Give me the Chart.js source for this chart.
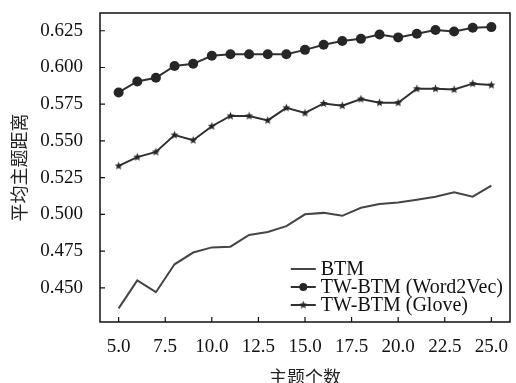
<!DOCTYPE html>
<html>
<head>
<meta charset="utf-8">
<script src="https://cdn.jsdelivr.net/npm/chart.js@4/dist/chart.umd.min.js"></script>
<style>
  html, body { margin: 0; padding: 0; background: #fff; }
  #wrap { width: 516px; height: 383px; position: relative; }
</style>
</head>
<body>
<div id="wrap"><canvas id="c" width="516" height="383"></canvas></div>
<script>
// Number of topics on the x axis
const topicCounts = [5, 6, 7, 8, 9, 10, 11, 12, 13, 14, 15, 16, 17, 18, 19, 20, 21, 22, 23, 24, 25];

// Average topic distance per model
const btmScores      = [0.436, 0.455, 0.447, 0.466, 0.474, 0.4775, 0.478, 0.486, 0.488, 0.492, 0.500, 0.501, 0.499, 0.5045, 0.507, 0.508, 0.510, 0.512, 0.515, 0.512, 0.5195];
const word2vecScores = [0.583, 0.5905, 0.593, 0.601, 0.6025, 0.608, 0.609, 0.609, 0.609, 0.609, 0.612, 0.6155, 0.618, 0.6195, 0.6225, 0.6205, 0.623, 0.6255, 0.6245, 0.627, 0.6275];
const gloveScores    = [0.533, 0.539, 0.5425, 0.554, 0.5505, 0.560, 0.567, 0.567, 0.564, 0.5725, 0.569, 0.5755, 0.574, 0.5785, 0.576, 0.576, 0.5855, 0.5855, 0.585, 0.589, 0.588];

const seriesNames = ['BTM', 'TW-BTM (Word2Vec)', 'TW-BTM (Glove)'];

// Tick labels
const xTicks = [5.0, 7.5, 10.0, 12.5, 15.0, 17.5, 20.0, 22.5, 25.0];
const yTicks = [0.450, 0.475, 0.500, 0.525, 0.550, 0.575, 0.600, 0.625];

const xTitle = '主题个数';
const yTitle = '平均主题距离';

const INK = '#303030';
const BTM_INK = '#454545';
const MARK = '#262626';
const SERIF = "'Liberation Serif', 'Times New Roman', serif";
const CJK = "'Noto Sans CJK SC', 'Noto Sans', sans-serif";

// Small filled five-point star used as a point marker
function makeStar(outer, inner, color) {
  const size = Math.ceil(outer * 2 + 2);
  const cv = document.createElement('canvas');
  cv.width = size; cv.height = size;
  const g = cv.getContext('2d');
  g.translate(size / 2, size / 2);
  g.beginPath();
  for (let i = 0; i < 10; i++) {
    const r = i % 2 === 0 ? outer : inner;
    const a = -Math.PI / 2 + i * Math.PI / 5;
    const px = r * Math.cos(a), py = r * Math.sin(a);
    if (i === 0) g.moveTo(px, py); else g.lineTo(px, py);
  }
  g.closePath();
  g.fillStyle = color;
  g.fill();
  return cv;
}
const starImg = makeStar(4.2, 1.9, MARK);

const toPoints = arr => topicCounts.map((x, i) => ({ x: x, y: arr[i] }));

// Frame around the plot area with inward ticks on the bottom and left axes
const framePlugin = {
  id: 'frame',
  afterDraw(chart) {
    const { ctx, chartArea: a, scales } = chart;
    ctx.save();
    ctx.strokeStyle = '#111';
    ctx.lineWidth = 1.5;
    ctx.strokeRect(a.left, a.top, a.right - a.left, a.bottom - a.top);
    ctx.lineWidth = 1.2;
    ctx.beginPath();
    scales.x.ticks.forEach(t => {
      const px = scales.x.getPixelForValue(t.value);
      ctx.moveTo(px, a.bottom);
      ctx.lineTo(px, a.bottom - 5);
    });
    scales.y.ticks.forEach(t => {
      const py = scales.y.getPixelForValue(t.value);
      ctx.moveTo(a.left, py);
      ctx.lineTo(a.left + 5, py);
    });
    ctx.stroke();
    ctx.restore();
  }
};

// Legend in the lower-right corner of the plot area
const legendPlugin = {
  id: 'cornerLegend',
  afterDraw(chart) {
    const { ctx, chartArea: a } = chart;
    ctx.save();
    ctx.font = '20px ' + SERIF;
    const maxW = Math.max(...seriesNames.map(s => ctx.measureText(s).width));
    const textX = a.right - 7 - maxW;
    const x2 = textX - 5, x1 = x2 - 25;
    const rowGap = 18;
    const firstY = a.bottom - 53;
    seriesNames.forEach((name, i) => {
      const y = firstY + i * rowGap;
      ctx.strokeStyle = i === 0 ? BTM_INK : INK;
      ctx.lineWidth = 2;
      ctx.beginPath();
      ctx.moveTo(x1, y); ctx.lineTo(x2, y);
      ctx.stroke();
      const cx = (x1 + x2) / 2;
      if (i === 1) {
        ctx.fillStyle = MARK;
        ctx.beginPath();
        ctx.arc(cx, y, 4, 0, Math.PI * 2);
        ctx.fill();
      } else if (i === 2) {
        ctx.drawImage(starImg, cx - starImg.width / 2, y - starImg.height / 2);
      }
      ctx.fillStyle = '#111';
      ctx.textBaseline = 'middle';
      ctx.textAlign = 'left';
      ctx.fillText(name, textX, y + 1);
    });
    ctx.restore();
  }
};

new Chart(document.getElementById('c'), {
  type: 'line',
  data: {
    datasets: [
      {
        label: seriesNames[0],
        data: toPoints(btmScores),
        borderColor: BTM_INK,
        borderWidth: 2,
        pointRadius: 0,
        tension: 0
      },
      {
        label: seriesNames[1],
        data: toPoints(word2vecScores),
        borderColor: INK,
        backgroundColor: MARK,
        borderWidth: 2,
        pointStyle: 'circle',
        pointRadius: 5,
        pointBorderWidth: 0,
        pointBackgroundColor: MARK,
        tension: 0
      },
      {
        label: seriesNames[2],
        data: toPoints(gloveScores),
        borderColor: INK,
        borderWidth: 2,
        pointStyle: starImg,
        tension: 0
      }
    ]
  },
  options: {
    responsive: false,
    animation: false,
    devicePixelRatio: 1,
    layout: { padding: { top: 13, right: 1, left: 0, bottom: 0 } },
    plugins: {
      legend: { display: false },
      tooltip: { enabled: false }
    },
    scales: {
      x: {
        type: 'linear',
        min: 4,
        max: 26,
        afterBuildTicks: s => { s.ticks = xTicks.map(v => ({ value: v })); },
        afterFit: s => { s.height = 61; s.paddingLeft = 0; s.paddingRight = 0; },
        grid: { display: false, drawTicks: false },
        border: { display: false },
        ticks: {
          padding: 14,
          color: '#111',
          font: { family: SERIF, size: 19 },
          maxRotation: 0,
          autoSkip: false,
          callback: v => Number(v).toFixed(1)
        },
        title: {
          display: true,
          text: xTitle,
          color: '#222',
          font: { family: CJK, size: 18, lineHeight: 1.2 },
          padding: { top: 0, bottom: -5 }
        }
      },
      y: {
        type: 'linear',
        min: 0.4267,
        max: 0.6371,
        afterBuildTicks: s => { s.ticks = yTicks.map(v => ({ value: v })); },
        afterFit: s => { s.width = 100; s.paddingTop = 0; s.paddingBottom = 0; },
        grid: { display: false, drawTicks: false },
        border: { display: false },
        ticks: {
          padding: 17,
          color: '#111',
          font: { family: SERIF, size: 19 },
          autoSkip: false,
          callback: v => Number(v).toFixed(3)
        },
        title: {
          display: true,
          text: yTitle,
          color: '#222',
          font: { family: CJK, size: 18, lineHeight: 1.2 },
          padding: { top: 8, bottom: 0 }
        }
      }
    }
  },
  plugins: [framePlugin, legendPlugin]
});
</script>
</body>
</html>
